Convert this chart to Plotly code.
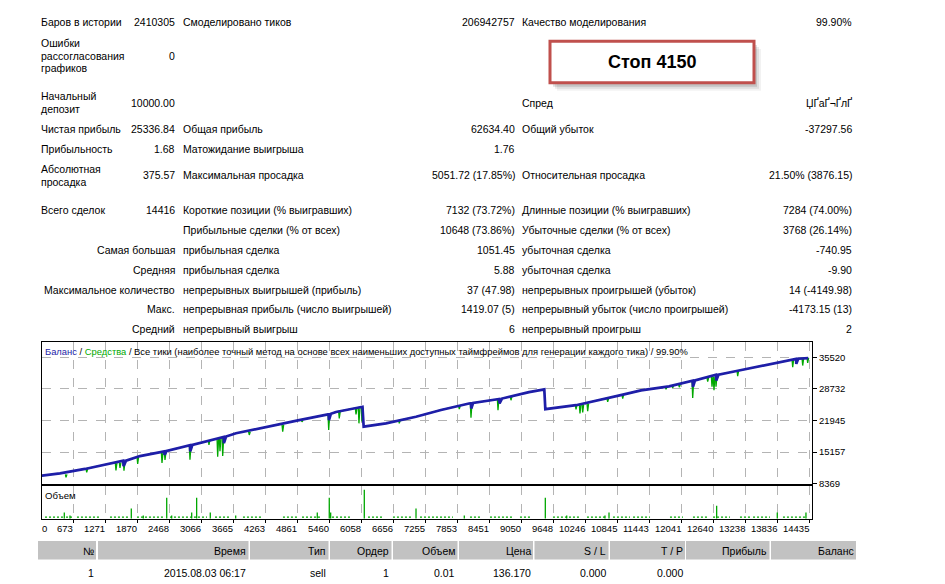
import plotly.graph_objects as go

W, H = 945, 584
FONT = "Liberation Sans, Arial, sans-serif"

# ---------------- data ----------------
BAL_TRADE = [0, 424, 892, 1359, 1584, 1608, 1613, 1660, 1920, 2350, 2375, 2380, 2420,
             2855, 2860, 2900, 3267, 3454, 3485, 3490, 3530, 3716, 4276, 4875, 5436,
             5449, 5454, 5490, 5586, 6081, 6103, 6520, 7081, 7549, 8073, 8110, 8115,
             8150, 8639, 8644, 8690, 9195, 9481, 9500, 10074, 10578, 10952, 11289,
             11813, 12256, 12261, 12300, 12692, 12697, 12740, 13122, 13814, 14188,
             14193, 14230, 14416]
BAL_VALUE = [10000, 10603, 11558, 12727, 13259, 13310, 12134, 13330, 14322, 15279, 15330,
             14598, 15420, 16661, 15321, 16700, 17830, 18361, 18420, 17086, 18520, 19212,
             20593, 21976, 23251, 23260, 22039, 23380, 23783, 24888, 20636, 21338, 22762,
             24208, 25590, 25650, 24527, 25700, 26550, 25590, 26653, 28035, 28630, 24378,
             25228, 26440, 27503, 28417, 29268, 30480, 29140, 30550, 31755, 30544, 31800,
             32669, 34306, 35157, 34094, 35200, 35337]

DIP_TRADE = [537, 924, 1471, 1546, 1621, 1877, 2332, 2388, 2855, 3210, 3373, 3416, 3467,
             3964, 4589, 4950, 5449, 5647, 5960, 6015, 6071, 6769, 7891, 8110, 8615, 8858,
             10074, 10148, 10199, 10292, 10666, 10947, 11757, 11882, 12005, 12256, 12536,
             12617, 12654, 12692, 13097, 14126, 14206, 14313, 14406]
DIP_TOP = [10389, 11558, 12834, 12940, 13046, 14216, 15069, 15172, 16555, 17724, 18149,
           18149, 18255, 19531, 21019, 21976, 23251, 23889, 24527, 24634, 24740, 21976,
           25058, 25590, 26546, 27078, 25228, 25313, 25398, 25590, 26653, 27503, 29098,
           29311, 29630, 30373, 31117, 31330, 31330, 31543, 32606, 35051, 35157, 35263,
           35400]
DIP_LOW = [9751, 10814, 11239, 11771, 11196, 12621, 12834, 13472, 13536, 16724, 14173,
           15385, 14322, 18850, 19573, 21657, 19913, 22401, 23251, 21338, 21763, 21338,
           24378, 22550, 24165, 26291, 24314, 23464, 23676, 23954, 25952, 26653, 28630,
           28991, 29098, 26801, 30267, 29204, 28417, 29204, 31479, 33394, 34306, 33732,
           34306]

VOL_TRADE = [505, 611, 1758, 1982, 2420, 2513, 2887, 2980, 3235, 3710, 5236, 5460, 5486,
             6115, 7082, 7985, 9500, 9900, 10616, 10691, 12704, 13838, 14374]
VOL_LOTS = [0.06, 0.03, 0.10, 0.03, 0.21, 0.03, 0.06, 0.21, 0.06, 0.03, 0.06, 0.21, 0.06,
            0.29, 0.10, 0.03, 0.21, 0.03, 0.03, 0.06, 0.13, 0.06, 0.06]
BASE_LOTS = 0.015
BASE_START = [144, 537, 742, 1359, 1864, 2481, 2855, 3323, 3846, 4594, 4950, 5511, 6184,
              6651, 7156, 8091, 8465, 9026, 9643, 10279, 10765, 11140, 11831, 12261, 12636,
              13140, 13384, 13944]
BASE_END = [480, 667, 1172, 1733, 2388, 2818, 3173, 3603, 4220, 4856, 5286, 5847, 6464,
            7025, 7773, 8278, 8895, 9213, 10148, 10653, 11083, 11458, 12074, 12523, 12953,
            13328, 13701, 14393]

X_TICK_LABELS = [0, 673, 1271, 1870, 2468, 3066, 3665, 4263, 4861, 5460, 6058, 6656, 7255,
                 7853, 8451, 9050, 9648, 10246, 10845, 11443, 12041, 12640, 13238, 13836,
                 14435]
Y_TICK_LABELS = [8369, 15157, 21945, 28732, 35520]

STATS = [
    ("Баров в истории", "2410305", "Смоделировано тиков", "206942757",
     "Качество моделирования", "99.90%"),
    ("Ошибки\nрассогласования\nграфиков", "0", "", "", "", ""),
    ("Начальный\nдепозит", "10000.00", "", "", "Спред", "ЏҐаҐ¬ҐлҐ"),
    ("Чистая прибыль", "25336.84", "Общая прибыль", "62634.40", "Общий убыток", "-37297.56"),
    ("Прибыльность", "1.68", "Матожидание выигрыша", "1.76", "", ""),
    ("Абсолютная\nпросадка", "375.57", "Максимальная просадка", "5051.72 (17.85%)",
     "Относительная просадка", "21.50% (3876.15)"),
    ("Всего сделок", "14416", "Короткие позиции (% выигравших)", "7132 (73.72%)",
     "Длинные позиции (% выигравших)", "7284 (74.00%)"),
    ("", "", "Прибыльные сделки (% от всех)", "10648 (73.86%)",
     "Убыточные сделки (% от всех)", "3768 (26.14%)"),
    ("Самая большая", "", "прибыльная сделка", "1051.45", "убыточная сделка", "-740.95"),
    ("Средняя", "", "прибыльная сделка", "5.88", "убыточная сделка", "-9.90"),
    ("Максимальное количество", "", "непрерывных выигрышей (прибыль)", "37 (47.98)",
     "непрерывных проигрышей (убыток)", "14 (-4149.98)"),
    ("Макс.", "", "непрерывная прибыль (число выигрышей)", "1419.07 (5)",
     "непрерывный убыток (число проигрышей)", "-4173.15 (13)"),
    ("Средний", "", "непрерывный выигрыш", "6", "непрерывный проигрыш", "2"),
]

TABLE_HEADER = ["№", "Время", "Тип", "Ордер", "Объем", "Цена", "S / L", "T / P", "Прибыль", "Баланс"]
TABLE_ROW = ["1", "2015.08.03 06:17", "sell", "1", "0.01", "136.170", "0.000", "0.000", "", ""]

STOP_TEXT = "Стоп 4150"
TITLE_BAL = "Баланс"
TITLE_EQ = "Средства"
TITLE_REST = ("Все тики (наиболее точный метод на основе всех наименьших доступных "
              "таймфреймов для генерации каждого тика) / 99.90%")
VOL_TITLE = "Объем"

# ---------------- layout constants (pixels) ----------------
CH_L, CH_R = 42, 812
MAIN_T, MAIN_B = 345, 488
VOL_T, VOL_B = 490.5, 523.5
X_RANGE = [88, 14487]
Y_RANGE = [8369, 38771]
V_RANGE = [-0.005, 0.325]

ROW_Y = [22, 56, 103.7, 130, 150, 177, 212, 232, 252, 272, 292, 312, 332]
COL_X = [41, 175, 183, 515, 522, 852]
LINE_GAP = 13

CELL_L = [38, 98, 250, 330, 393, 459, 534.5, 610, 686, 771]
CELL_R = [96, 248.5, 328.5, 391.5, 457.5, 533, 608.5, 685, 769.5, 856]
HEAD_T, HEAD_B = 545.7, 564.3
ROW1_Y = 577.5

BAL_COLOR = "#1e1ea8"
EQ_COLOR = "#00a800"
GRID = "#b4b4b4"


def px(x):
    return x / W


def py(y):
    return 1 - y / H


fig = go.Figure()

# equity (drawn under balance)
eq_x, eq_y = [], []
for t, top, low in zip(DIP_TRADE, DIP_TOP, DIP_LOW):
    eq_x += [t - 12, t, t + 18, None]
    eq_y += [top, low, top, None]
fig.add_trace(go.Scatter(x=BAL_TRADE, y=BAL_VALUE, mode="lines",
                         line=dict(color=EQ_COLOR, width=1.2), xaxis="x", yaxis="y",
                         hoverinfo="skip", showlegend=False))
fig.add_trace(go.Scatter(x=eq_x, y=eq_y, mode="lines", connectgaps=False,
                         line=dict(color=EQ_COLOR, width=1.3), xaxis="x", yaxis="y",
                         hoverinfo="skip", showlegend=False))
fig.add_trace(go.Scatter(x=BAL_TRADE, y=BAL_VALUE, mode="lines",
                         line=dict(color=BAL_COLOR, width=2.7), xaxis="x", yaxis="y",
                         hoverinfo="skip", showlegend=False))

# volume
vx, vy = [], []
for t, v in zip(VOL_TRADE, VOL_LOTS):
    vx += [t, t, None]
    vy += [0, v, None]
fig.add_trace(go.Scatter(x=vx, y=vy, mode="lines", line=dict(color=EQ_COLOR, width=1.3),
                         xaxis="x2", yaxis="y2", hoverinfo="skip", showlegend=False))
bx, by = [], []
for s, e in zip(BASE_START, BASE_END):
    bx += [s, e, None]
    by += [BASE_LOTS, BASE_LOTS, None]
fig.add_trace(go.Scatter(x=bx, y=by, mode="lines",
                         line=dict(color=EQ_COLOR, width=1.3, dash="2px,2px"),
                         xaxis="x2", yaxis="y2", hoverinfo="skip", showlegend=False))

dom_x = [px(CH_L), px(CH_R)]
axis_common = dict(showline=True, mirror=True, linecolor="black", linewidth=1,
                   zeroline=False, fixedrange=True)
fig.update_layout(
    width=W, height=H, autosize=False,
    margin=dict(l=0, r=0, t=0, b=0),
    paper_bgcolor="white", plot_bgcolor="white",
    font=dict(family=FONT, size=10.5, color="black"),
    xaxis=dict(domain=dom_x, range=X_RANGE, anchor="y", tickvals=X_TICK_LABELS[1:],
               showticklabels=False, ticks="", showgrid=True, gridcolor=GRID,
               griddash="dash", gridwidth=1, **axis_common),
    yaxis=dict(domain=[py(MAIN_B), py(MAIN_T)], range=Y_RANGE, anchor="x", side="right",
               tickvals=Y_TICK_LABELS, ticktext=[str(v) for v in Y_TICK_LABELS],
               ticks="outside", ticklen=4, tickcolor="black",
               tickfont=dict(family=FONT, size=9.5, color="black"),
               showgrid=True, gridcolor=GRID, griddash="dash", gridwidth=1, **axis_common),
    xaxis2=dict(domain=dom_x, range=X_RANGE, anchor="y2", tickvals=X_TICK_LABELS[1:],
                showticklabels=False, ticks="outside", ticklen=3, tickcolor="black",
                showgrid=True, gridcolor=GRID, griddash="dash", gridwidth=1, **axis_common),
    yaxis2=dict(domain=[py(VOL_B), py(VOL_T)], range=V_RANGE, anchor="x2",
                showticklabels=False, ticks="", showgrid=False, **axis_common),
)

ann = []


def text(x, y, s, anchor="left", size=10.5, color="black"):
    ann.append(dict(x=px(x), y=py(y), xref="paper", yref="paper",
                    text=s, showarrow=False, xanchor=anchor, yanchor="middle",
                    font=dict(family=FONT, size=size, color=color),
                    borderpad=0, borderwidth=0))


# stats block
for row, y in zip(STATS, ROW_Y):
    l1, v1, l2, v2, l3, v3 = row
    if l1:
        lines = l1.split("\n")
        if v1 == "" and len(lines) == 1:
            text(COL_X[1], y, l1, "right")
        else:
            n = len(lines)
            for i, ln in enumerate(lines):
                text(COL_X[0], y + (i - (n - 1) / 2) * LINE_GAP, ln, "left")
    if v1:
        text(COL_X[1], y, v1, "right")
    if l2:
        text(COL_X[2], y, l2, "left")
    if v2:
        text(COL_X[3], y, v2, "right")
    if l3:
        text(COL_X[4], y, l3, "left")
    if v3:
        text(COL_X[5], y, v3, "right")

# chart title
title = (f'<span style="color:{BAL_COLOR}">{TITLE_BAL}</span> / '
         f'<span style="color:{EQ_COLOR}">{TITLE_EQ}</span> / {TITLE_REST}')
text(45, 355, title, "left", size=9.4)
text(45, 499.5, VOL_TITLE, "left", size=9.6)

# x tick labels
for v in X_TICK_LABELS:
    if v == 0:
        ann.append(dict(x=px(CH_L), y=py(533), xref="paper", yref="paper", text=str(v),
                        showarrow=False, xanchor="left", yanchor="middle",
                        font=dict(family=FONT, size=9.5), borderpad=0, borderwidth=0))
    else:
        ann.append(dict(x=v, y=py(533), xref="x2", yref="paper", text=str(v),
                        showarrow=False, xanchor="right", yanchor="middle",
                        font=dict(family=FONT, size=9.5), borderpad=0, borderwidth=0))

# table
shapes = []
for i, h in enumerate(TABLE_HEADER):
    shapes.append(dict(type="rect", xref="paper", yref="paper",
                       x0=px(CELL_L[i]), x1=px(CELL_R[i]), y0=py(HEAD_B), y1=py(HEAD_T),
                       fillcolor="#c2c2c2", line=dict(width=0), layer="below"))
    text(CELL_R[i] - 2.5, (HEAD_T + HEAD_B) / 2 + 0.5, h, "right")
    if TABLE_ROW[i]:
        text(CELL_R[i] - 2.5, ROW1_Y, TABLE_ROW[i], "right")

# stop box with shadow
for dx, dy, a in [(7, 8, 0.05), (5, 6, 0.08), (3, 4, 0.12)]:
    shapes.append(dict(type="rect", xref="paper", yref="paper",
                       x0=px(550 + dx), x1=px(754 + dx), y0=py(83.5 + dy), y1=py(41.5 + dy),
                       fillcolor=f"rgba(0,0,0,{a})", line=dict(width=0)))
shapes.append(dict(type="rect", xref="paper", yref="paper",
                   x0=px(550), x1=px(754), y0=py(83.5), y1=py(41.5),
                   fillcolor="white", line=dict(color="#c0504d", width=3)))
text(652, 62.5, f"<b>{STOP_TEXT}</b>", "center", size=18)

fig.update_layout(annotations=ann, shapes=shapes)
fig.write_html("out.html")
